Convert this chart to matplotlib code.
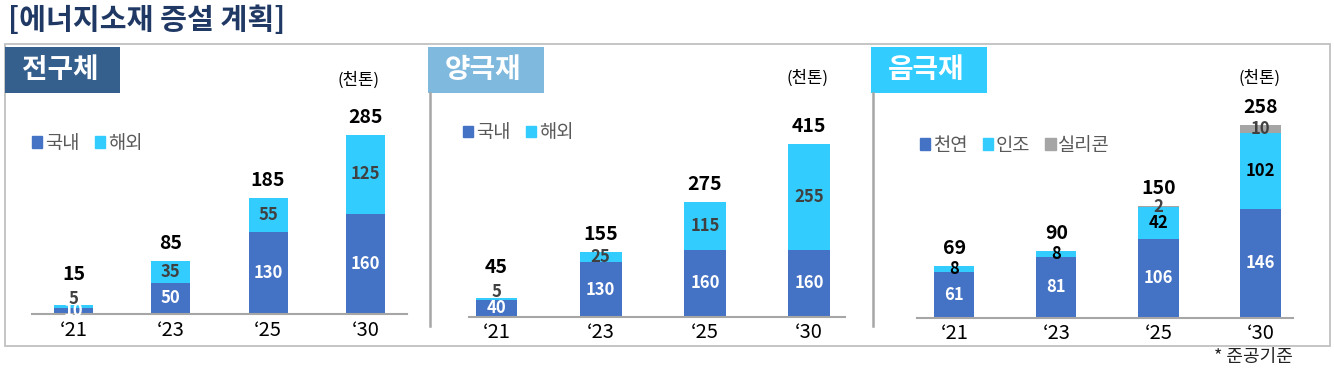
import matplotlib.pyplot as plt
from matplotlib.patches import Rectangle, Patch
from matplotlib.lines import Line2D

plt.rcParams['font.family'] = ['Noto Sans CJK KR', 'DejaVu Sans']

# data (천톤)
years = ['‘21', '‘23', '‘25', '‘30']

prec_domestic = [10, 50, 130, 160]
prec_overseas = [5, 35, 55, 125]
prec_total = [15, 85, 185, 285]

cath_domestic = [40, 130, 160, 160]
cath_overseas = [5, 25, 115, 255]
cath_total = [45, 155, 275, 415]

anode_natural = [61, 81, 106, 146]
anode_artificial = [8, 8, 42, 102]
anode_silicon = [0, 0, 2, 10]
anode_total = [69, 90, 150, 258]

BLUE = '#4472C4'
CYAN = '#33CCFF'
GREY = '#A5A5A5'

W, H = 1334, 370
fig = plt.figure(figsize=(W / 100, H / 100), dpi=100)


def fx(x):
    return x / W


def fy(y):
    return 1 - y / H


# outer frame and separators
fig.patches.append(Rectangle((fx(5), fy(346)), fx(1330) - fx(5), fy(44) - fy(346),
                             transform=fig.transFigure, fill=False, ec='#C0C0C0', lw=1.3))
for sx in [429.5, 872.5]:
    fig.lines.append(Line2D([fx(sx), fx(sx)], [fy(93), fy(326)], transform=fig.transFigure,
                            color='#A6A6A6', lw=1.8))

fig.text(fx(8), fy(20), '[에너지소재 증설 계획]', fontsize=21, fontweight='bold',
         color='#1F3864', va='center', ha='left')
fig.text(fx(1293), fy(357), '* 준공기준', fontsize=13, ha='right', va='center', color='#222222')


def header(x0, x1, text, color):
    fig.patches.append(Rectangle((fx(x0), fy(93)), fx(x1) - fx(x0), fy(47) - fy(93),
                                 transform=fig.transFigure, color=color, lw=0))
    fig.text(fx(x0 + 17), fy(70), text, fontsize=20, fontweight='bold', color='white',
             ha='left', va='center')


def panel(left, right, base, scale, first, width_px, series, colors, label_colors,
          names, totals, leg_xy, unit_xy):
    top = 95
    ax = fig.add_axes([fx(left), fy(base), fx(right) - fx(left), fy(top) - fy(base)])
    ax.set_ylim(0, (base - top) / scale)
    # bar centers in pixels -> index units
    spacing = first[1]
    x0 = -(first[0] - left) / spacing
    x1 = 3 + (right - (first[0] + 3 * spacing)) / spacing
    ax.set_xlim(x0, x1)
    bw = width_px / spacing
    xs = range(len(years))
    bottoms = [0] * len(years)
    raised = [False] * len(years)
    for vals, c, lc in zip(series, colors, label_colors):
        bars = ax.bar(xs, vals, bw, bottom=bottoms, color=c, lw=0)
        for i, v in enumerate(vals):
            if v == 0:
                continue
            if v * scale < 5 and bottoms[i] > 0 and c != GREY:
                ax.annotate(str(v), (i, bottoms[i] + v), xytext=(0, 4),
                            textcoords='offset points', ha='center', va='center',
                            fontsize=12, fontweight='bold', color=lc)
                raised[i] = True
            else:
                t = ax.text(i, bottoms[i] + v / 2, str(v), ha='center', va='center',
                            fontsize=12, fontweight='bold', color=lc)
                if lc == 'white':
                    t.set_clip_path(bars[i])
        bottoms = [b + v for b, v in zip(bottoms, vals)]
    for i, t in enumerate(totals):
        off = 22 if raised[i] else 12.5
        ax.annotate(str(t), (i, bottoms[i]), xytext=(0, off), textcoords='offset points',
                    ha='center', va='center', fontsize=14, fontweight='bold', color='black')
    ax.set_xticks(list(xs))
    ax.set_xticklabels(years, fontsize=14.5)
    ax.tick_params(axis='x', length=0, pad=4)
    ax.set_yticks([])
    for s in ['top', 'left', 'right']:
        ax.spines[s].set_visible(False)
    ax.spines['bottom'].set_color('#A6A6A6')
    ax.spines['bottom'].set_linewidth(1.5)
    ax.patch.set_visible(False)
    handles = [Patch(color=c) for c in colors]
    fig.legend(handles, names, loc='center left', bbox_to_anchor=(fx(leg_xy[0]), fy(leg_xy[1])),
               ncol=len(names), frameon=False, fontsize=13.5, handlelength=0.55, handleheight=0.55,
               handletextpad=0.15, columnspacing=0.8, borderpad=0, borderaxespad=0,
               labelcolor='#595959')
    fig.text(fx(unit_xy[0]), fy(unit_xy[1]), '(천톤)', fontsize=12, ha='center', va='center')
    return ax


header(5, 120, '전구체', '#355F8D')
header(428, 544, '양극재', '#7FB9DE')
header(871, 987, '음극재', CYAN)

panel(32, 407, 314, 0.628, (73.5, 97.3), 39,
      [prec_domestic, prec_overseas], [BLUE, CYAN], ['white', '#404040'],
      ['국내', '해외'], prec_total, (32, 143), (358, 80))

panel(469, 845, 316.7, 0.417, (496.5, 104.2), 41.6,
      [cath_domestic, cath_overseas], [BLUE, CYAN], ['white', '#404040'],
      ['국내', '해외'], cath_total, (463, 132.5), (808, 78))

panel(916.7, 1292.7, 317.7, 0.746, (954.2, 102.1), 40.3,
      [anode_natural, anode_artificial, anode_silicon], [BLUE, CYAN, GREY],
      ['white', 'black', '#404040'],
      ['천연', '인조', '실리콘'], anode_total, (920, 145), (1260, 78))

fig.savefig('out.png', dpi=100)
